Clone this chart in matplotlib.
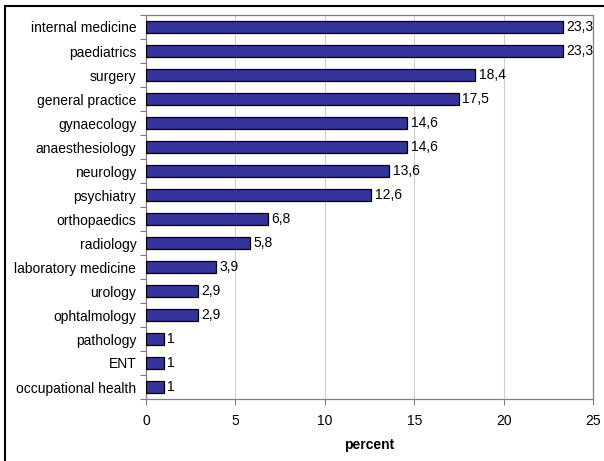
import numpy as np
import matplotlib.pyplot as plt
from matplotlib.patches import Rectangle

plt.rcParams['font.family'] = ['Liberation Sans', 'DejaVu Sans']

specialties = ['internal medicine', 'paediatrics', 'surgery', 'general practice',
               'gynaecology', 'anaesthesiology', 'neurology', 'psychiatry',
               'orthopaedics', 'radiology', 'laboratory medicine', 'urology',
               'ophtalmology', 'pathology', 'ENT', 'occupational health']
percent = [23.3, 23.3, 18.4, 17.5, 14.6, 14.6, 13.6, 12.6,
           6.8, 5.8, 3.9, 2.9, 2.9, 1, 1, 1]

W, H = 604, 461
fs = 10
fig = plt.figure(figsize=(W / 100, H / 100), dpi=100)
ax = fig.add_axes([146 / W, 1 - 399 / H, (593 - 146) / W, (399 - 15) / H])

y = np.arange(len(specialties))
ax.barh(y, percent, height=0.49, color='#333399', edgecolor='black', linewidth=0.9, zorder=3)

for yi, v in zip(y, percent):
    lab = ('%g' % v).replace('.', ',')
    ax.text(v + 0.2, yi, lab, va='center', ha='left', fontsize=fs, zorder=4)

ax.set_ylim(len(specialties) - 0.5, -0.5)
ax.set_xlim(0, 25)
ax.set_yticks(y)
ax.set_yticklabels(specialties, fontsize=fs)
ax.set_yticks(np.arange(-0.5, len(specialties), 1), minor=True)
ax.tick_params(axis='y', which='major', length=0, pad=7)
ax.tick_params(axis='y', which='minor', length=4, color='#808080', width=0.8)
ax.set_xticks([0, 5, 10, 15, 20, 25])
ax.tick_params(axis='x', length=4, color='#808080', width=0.8, labelsize=fs, pad=7)
ax.grid(axis='x', color='#d0d0d0', linewidth=0.8, zorder=0)
for s in ax.spines.values():
    s.set_color('#808080')
    s.set_linewidth(0.9)

ax.set_xlabel('percent', fontsize=fs, fontweight='bold', labelpad=7)

# outer frame, only left and top edges fall inside the canvas
fig.patches.append(Rectangle((5 / W, -0.1), 1.2, 1 - 6 / H + 0.1, transform=fig.transFigure,
                             fill=False, edgecolor='black', linewidth=1.5))

fig.savefig('out.png', dpi=100)
